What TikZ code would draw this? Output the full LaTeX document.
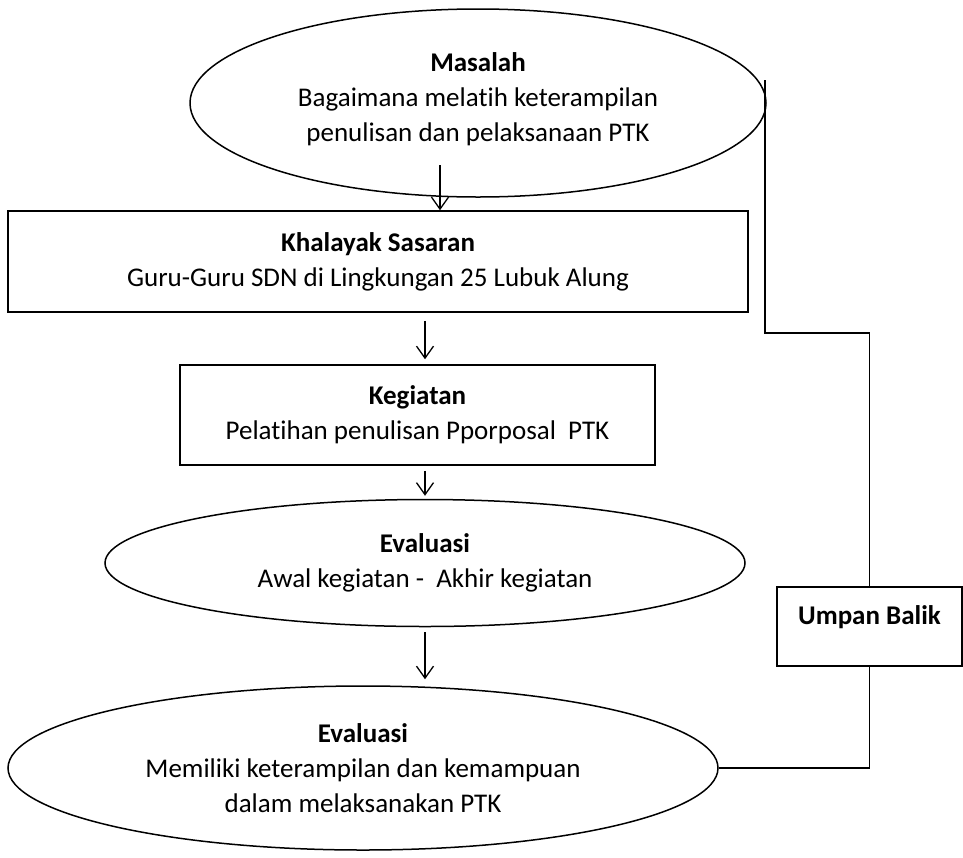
\documentclass[tikz,border=0pt]{standalone}
\usepackage{fontspec}
\setmainfont[Ligatures={NoCommon}]{Carlito}
\usetikzlibrary{shapes.geometric,arrows.meta}
\begin{document}
\begin{tikzpicture}[x=1pt,y=-1pt,
  every node/.style={font=\fontsize{27}{35}\selectfont, align=center, inner sep=0pt},
  shp/.style={draw, line width=1.5pt},
  ell/.style={shp, ellipse},
  box/.style={shp, rectangle},
  arr/.style={-{Straight Barb[length=12pt,width=17pt,line width=1.3pt]}, line width=1.3pt},
  fb/.style={line width=1.5pt}]
\useasboundingbox (0,0) rectangle (963,857);
\node[ell, minimum width=576pt, minimum height=188pt] (e1) at (478,103)
  {\raisebox{4pt}[\height][\depth]{\textbf{Masalah}}\\\raisebox{4pt}[\height][\depth]{Bagaimana melatih keterampilan}\\\raisebox{4pt}[\height][\depth]{penulisan dan pelaksanaan PTK}};
\node[box, minimum width=740pt, minimum height=101pt] (r1) at (378,261.5)
  {\textbf{Khalayak Sasaran}\\Guru-Guru SDN di Lingkungan 25 Lubuk Alung};
\node[box, minimum width=475pt, minimum height=100pt] (r2) at (417.5,415)
  {\textbf{Kegiatan}\\Pelatihan penulisan Pporposal~~PTK};
\node[ell, minimum width=640pt, minimum height=127pt] (e2) at (425,563)
  {\textbf{Evaluasi}\\Awal kegiatan -~~Akhir kegiatan};
\node[ell, minimum width=710pt, minimum height=164pt] (e3) at (363,768)
  {\textbf{Evaluasi}\\Memiliki keterampilan dan kemampuan\\dalam melaksanakan PTK};
\node[box, minimum width=185pt, minimum height=79pt] (ub) at (869.5,626.5)
  {\raisebox{9pt}[\height][\depth]{\textbf{Umpan Balik}}};
\coordinate (ax) at (425,0);
\coordinate (a1s) at (440,165);
\coordinate (fbbend) at (765,333);
\coordinate (fbtop) at (765,80);
\draw[arr] (a1s) -- (a1s |- r1.north);
\draw[arr, shorten <=8pt, shorten >=5pt] (r1.south -| ax) -- (r2.north -| ax);
\draw[arr, shorten <=5pt, shorten >=3pt] (r2.south -| ax) -- (e2.north -| ax);
\draw[arr, shorten <=5pt, shorten >=6pt] (e2.south -| ax) -- (e3.north -| ax);
\draw[fb] (ub.north) |- (fbbend) -- (fbtop);
\draw[fb] (e3.east) -| (ub.south);
\end{tikzpicture}
\end{document}
